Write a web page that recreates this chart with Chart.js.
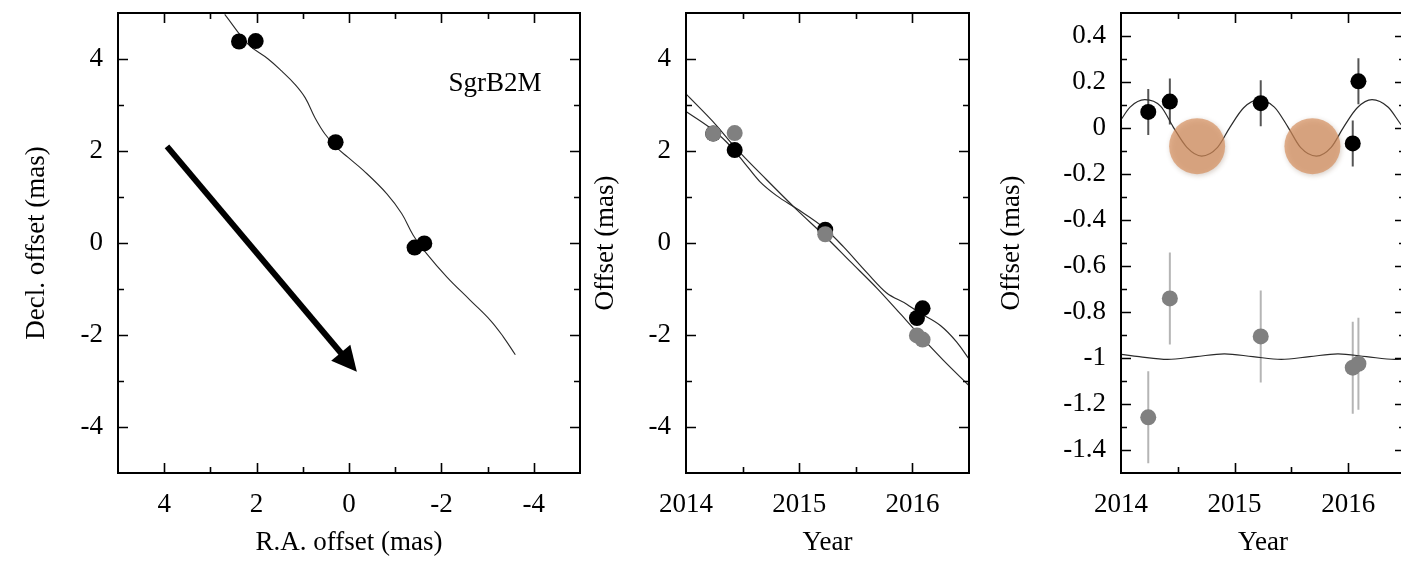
<!DOCTYPE html>
<html>
<head>
<meta charset="utf-8">
<script src="https://cdn.jsdelivr.net/npm/chart.js@4/dist/chart.umd.min.js"></script>
<style>
  html, body { margin: 0; padding: 0; background: #fff; overflow: hidden; width: 1401px; height: 561px; }
  canvas.panel { position: absolute; top: 0; }
</style>
</head>
<body>
<canvas id="sky" class="panel" style="left:0px" width="600" height="561"></canvas>
<canvas id="motion" class="panel" style="left:590px" width="400" height="561"></canvas>
<canvas id="parallax" class="panel" style="left:990px" width="440" height="561"></canvas>
<script>
// ---------------------------------------------------------------
// Observations of SgrB2M (decimal year, offsets in mas)
// ---------------------------------------------------------------
const epochs    = [2014.24, 2014.43, 2015.23, 2016.04, 2016.09];
const raOffset  = [2.38, 2.02, 0.29, -1.63, -1.42];
const decOffset = [4.38, 4.39, 2.19, -0.01, -0.10];
const decShiftMotion = -2;          // Dec drawn 2 mas lower in the time panel

// Residuals after removing the linear proper motion
const raResid   = [0.07, 0.115, 0.108, -0.067, 0.203];
const decResid  = [-0.258, 0.259, 0.094, -0.042, -0.025];
const decShiftParallax = -1;        // Dec residuals drawn 1 mas lower
const raErr  = [0.1, 0.1, 0.1, 0.1, 0.1];
const decErr = [0.2, 0.2, 0.2, 0.2, 0.2];

// Best-fit track on the sky
const skyFitRA  = [2.69, 2.18, 1.75, 1.46, 1.17, 0.95, 0.74, 0.52, 0.27, 0.02, -0.31, -0.82, -1.14, -1.39, -1.68, -2.12, -2.62, -3.06, -3.34, -3.60];
const skyFitDec = [4.97, 4.32, 4.00, 3.74, 3.45, 3.16, 2.73, 2.37, 2.08, 1.86, 1.58, 1.07, 0.64, 0.17, -0.23, -0.74, -1.24, -1.68, -2.04, -2.43];

// Best-fit motion vs time
const raFitYear  = [2014.0, 2014.21, 2014.36, 2014.51, 2014.65, 2014.80, 2014.98, 2015.23, 2015.39, 2015.60, 2015.77, 2015.95, 2016.05, 2016.25, 2016.39, 2016.5];
const raFit      = [2.86, 2.51, 2.19, 1.76, 1.34, 1.03, 0.745, 0.31, -0.08, -0.65, -1.08, -1.33, -1.50, -1.80, -2.15, -2.52];
const decFitYear = [2014.0, 2014.26, 2014.43, 2014.71, 2014.98, 2015.24, 2015.45, 2015.69, 2015.89, 2016.07, 2016.27, 2016.5];
const decFit     = [3.24, 2.58, 2.09, 1.38, 0.72, 0.12, -0.40, -0.99, -1.53, -2.02, -2.54, -3.10];

// Parallax signature
const pxRAYear  = [2014.0, 2014.08, 2014.21, 2014.35, 2014.46, 2014.58, 2014.71, 2014.85, 2014.96, 2015.08, 2015.21, 2015.35, 2015.47, 2015.58, 2015.72, 2015.85, 2015.96, 2016.08, 2016.21, 2016.35, 2016.47, 2016.5];
const pxRA      = [0.036, 0.091, 0.123, 0.094, 0.004, -0.084, -0.122, -0.084, 0.004, 0.088, 0.122, 0.091, 0.004, -0.084, -0.122, -0.084, 0.004, 0.088, 0.123, 0.091, 0.012, -0.004];
const pxDecYear = [2014.0, 2014.16, 2014.41, 2014.66, 2014.91, 2015.16, 2015.41, 2015.66, 2015.91, 2016.16, 2016.41, 2016.5];
const pxDec     = [0.016, 0.006, -0.006, 0.006, 0.018, 0.006, -0.006, 0.006, 0.018, 0.006, -0.006, -0.004];

// Epochs of minimum R.A. parallax displacement
const minEpochs = [2014.67, 2015.685];
const minLevel  = [-0.079, -0.079];

// Proper-motion direction on the sky (mas)
const arrowFrom = [3.94, 2.10];
const arrowTo   = [-0.17, -2.80];
const sourceName = 'SgrB2M';
const sourceLabelAt = [-3.16, 3.46];

// Axis ticks
const skyTicks = [4, 2, 0, -2, -4];
const yearTicks = [2014, 2015, 2016];
const residTicks = [0.4, 0.2, 0, -0.2, -0.4, -0.6, -0.8, -1, -1.2, -1.4];

// ---------------------------------------------------------------
const SERIF = '"Liberation Serif", "Times New Roman", Times, serif';
const FONT = { family: SERIF, size: 27 };
const fmt = v => String(Number(Number(v).toFixed(2)));

const zip = (xs, ys, d = 0) => xs.map((x, i) => ({ x, y: ys[i] + d }));
const errorBars = (xs, ys, es, d = 0) => {
  const out = [];
  xs.forEach((x, i) => out.push({ x, y: ys[i] + d - es[i] }, { x, y: ys[i] + d + es[i] }, { x, y: null }));
  return out;
};

function steps(min, max, step) {
  const a = [];
  for (let k = 1; min + k * step < max - step / 2; k++) a.push(+(min + k * step).toFixed(6));
  return a;
}

// Box frame with inward tick marks on all four sides
const framePlugin = {
  id: 'frame',
  afterDraw(chart, args, o) {
    const { ctx, chartArea: a } = chart;
    const xs = chart.scales.x, ys = chart.scales.y;
    const majX = xs.ticks.map(t => t.value), majY = ys.ticks.map(t => t.value);
    const isMaj = (arr, v) => arr.some(m => Math.abs(m - v) < 1e-6);
    ctx.save();
    ctx.strokeStyle = '#000';
    ctx.lineWidth = 1.6;
    ctx.beginPath();
    steps(xs.min, xs.max, o.xStep).forEach(v => {
      const p = Math.round(xs.getPixelForValue(v)) + 0.5;
      const L = isMaj(majX, v) ? o.major : o.minor;
      ctx.moveTo(p, a.bottom); ctx.lineTo(p, a.bottom - L);
      ctx.moveTo(p, a.top); ctx.lineTo(p, a.top + L);
    });
    steps(ys.min, ys.max, o.yStep).forEach(v => {
      const p = Math.round(ys.getPixelForValue(v)) + 0.5;
      const L = isMaj(majY, v) ? o.major : o.minor;
      ctx.moveTo(a.left, p); ctx.lineTo(a.left + L, p);
      ctx.moveTo(a.right, p); ctx.lineTo(a.right - L, p);
    });
    ctx.stroke();
    ctx.lineWidth = 2;
    ctx.strokeRect(a.left, a.top, a.right - a.left, a.bottom - a.top);
    ctx.restore();
  }
};

// Proper-motion arrow and source name on the sky panel
const skyAnnotations = {
  id: 'skyAnnotations',
  afterDatasetsDraw(chart, args, o) {
    if (!o || !o.arrow) return;
    const { ctx } = chart;
    const xs = chart.scales.x, ys = chart.scales.y;
    const x0 = xs.getPixelForValue(o.arrow.from[0]), y0 = ys.getPixelForValue(o.arrow.from[1]);
    const x1 = xs.getPixelForValue(o.arrow.to[0]), y1 = ys.getPixelForValue(o.arrow.to[1]);
    const ang = Math.atan2(y1 - y0, x1 - x0);
    const hl = 25, hw = 12.5;
    const bx = x1 - hl * Math.cos(ang), by = y1 - hl * Math.sin(ang);
    ctx.save();
    ctx.strokeStyle = '#000';
    ctx.fillStyle = '#000';
    ctx.lineWidth = 6;
    ctx.lineCap = 'butt';
    ctx.beginPath();
    ctx.moveTo(x0, y0);
    ctx.lineTo(bx + 2 * Math.cos(ang), by + 2 * Math.sin(ang));
    ctx.stroke();
    ctx.beginPath();
    ctx.moveTo(x1, y1);
    ctx.lineTo(bx + hw * Math.sin(ang), by - hw * Math.cos(ang));
    ctx.lineTo(bx - hw * Math.sin(ang), by + hw * Math.cos(ang));
    ctx.closePath();
    ctx.fill();
    ctx.font = `27px ${SERIF}`;
    ctx.textAlign = 'center';
    ctx.textBaseline = 'middle';
    ctx.fillText(o.label.text, xs.getPixelForValue(o.label.at[0]), ys.getPixelForValue(o.label.at[1]));
    ctx.restore();
  }
};

// Soft drop shadow for datasets flagged with `shadow`
const shadowPlugin = {
  id: 'softShadow',
  beforeDatasetDraw(chart, args) {
    const ds = chart.data.datasets[args.index];
    if (!ds.shadow) return;
    const ctx = chart.ctx;
    ctx.save();
    ctx.shadowColor = 'rgba(90, 50, 20, 0.35)';
    ctx.shadowBlur = 5;
    ctx.shadowOffsetX = 1;
    ctx.shadowOffsetY = 1.5;
  },
  afterDatasetDraw(chart, args) {
    const ds = chart.data.datasets[args.index];
    if (ds.shadow) chart.ctx.restore();
  }
};

const noEdgePadding = s => { s.paddingTop = 0; s.paddingBottom = 0; s.paddingLeft = 0; s.paddingRight = 0; };

function xScale(min, max, ticks, title, extra = {}) {
  return Object.assign({
    type: 'linear', position: 'bottom', min, max,
    afterBuildTicks: s => { s.ticks = ticks.map(v => ({ value: v })); },
    afterFit: s => { s.height = 88; noEdgePadding(s); },
    grid: { display: false, drawTicks: false },
    border: { display: false },
    ticks: { color: '#000', font: FONT, padding: 16, maxRotation: 0, autoSkip: false, callback: fmt },
    title: { display: true, text: title, color: '#000', font: FONT, padding: { top: 0, bottom: 2 } }
  }, extra);
}

function yScale(min, max, ticks, title, width, titlePad) {
  return {
    type: 'linear', position: 'left', min, max,
    afterBuildTicks: s => { s.ticks = ticks.map(v => ({ value: v })); },
    afterFit: s => { s.width = width; noEdgePadding(s); },
    grid: { display: false, drawTicks: false },
    border: { display: false },
    ticks: { color: '#000', font: FONT, padding: 15, autoSkip: false, callback: fmt },
    title: { display: true, text: title, color: '#000', font: FONT, padding: { top: titlePad, bottom: 0 } }
  };
}

function baseOptions(padRight, scales, frame, extraPlugins = {}) {
  return {
    responsive: false,
    animation: false,
    devicePixelRatio: 1,
    layout: { autoPadding: false, padding: { top: 13, right: padRight, left: 0, bottom: 0 } },
    scales,
    plugins: Object.assign({ legend: { display: false }, tooltip: { enabled: false }, frame }, extraPlugins)
  };
}

const curveStyle = { showLine: true, pointRadius: 0, borderColor: '#2a2a2a', borderWidth: 1.2, fill: false };

// ---- Panel 1: track on the sky
new Chart(document.getElementById('sky'), {
  type: 'scatter',
  data: {
    datasets: [
      Object.assign({ data: zip(skyFitRA, skyFitDec), tension: 0.4, order: 5 }, curveStyle, { borderWidth: 1.1 }),
      { data: zip(raOffset, decOffset), pointRadius: 8, pointBackgroundColor: '#000', pointBorderWidth: 0, order: 1 }
    ]
  },
  options: baseOptions(20, {
    x: xScale(-5, 5, skyTicks, 'R.A. offset (mas)', { reverse: true }),
    y: yScale(-5, 5, skyTicks, 'Decl. offset (mas)', 118, 21)
  }, { xStep: 1, yStep: 1, major: 10, minor: 6 }, {
    skyAnnotations: { arrow: { from: arrowFrom, to: arrowTo }, label: { text: sourceName, at: sourceLabelAt } }
  }),
  plugins: [framePlugin, skyAnnotations]
});

// ---- Panel 2: offsets vs time
new Chart(document.getElementById('motion'), {
  type: 'scatter',
  data: {
    datasets: [
      Object.assign({ data: zip(raFitYear, raFit), cubicInterpolationMode: 'monotone', order: 6 }, curveStyle),
      Object.assign({ data: zip(decFitYear, decFit), cubicInterpolationMode: 'monotone', order: 5 }, curveStyle),
      { data: zip(epochs, raOffset), pointRadius: 8, pointBackgroundColor: '#000', pointBorderWidth: 0, order: 3 },
      { data: zip(epochs, decOffset, decShiftMotion), pointRadius: 8, pointBackgroundColor: '#808080', pointBorderWidth: 0, order: 2 }
    ]
  },
  options: baseOptions(21, {
    x: xScale(2014, 2016.5, yearTicks, 'Year'),
    y: yScale(-5, 5, skyTicks, 'Offset (mas)', 96, 0)
  }, { xStep: 0.5, yStep: 1, major: 10, minor: 6 }),
  plugins: [framePlugin]
});

// ---- Panel 3: parallax residuals
new Chart(document.getElementById('parallax'), {
  type: 'scatter',
  data: {
    datasets: [
      { data: errorBars(epochs, decResid, decErr, decShiftParallax), showLine: true, pointRadius: 0, borderColor: '#b5b5b5', borderWidth: 2, order: 9 },
      { data: errorBars(epochs, raResid, raErr), showLine: true, pointRadius: 0, borderColor: '#555', borderWidth: 2, order: 8 },
      Object.assign({ data: zip(pxRAYear, pxRA), cubicInterpolationMode: 'monotone', order: 7 }, curveStyle),
      Object.assign({ data: zip(pxDecYear, pxDec, decShiftParallax), cubicInterpolationMode: 'monotone', order: 6 }, curveStyle),
      { data: zip(epochs, decResid, decShiftParallax), pointRadius: 8, pointBackgroundColor: '#808080', pointBorderWidth: 0, order: 4 },
      { data: zip(epochs, raResid), pointRadius: 8, pointBackgroundColor: '#000', pointBorderWidth: 0, order: 3 },
      { data: zip(minEpochs, minLevel), pointRadius: 28, pointBackgroundColor: 'rgba(214, 142, 92, 0.68)', pointBorderWidth: 0, shadow: true, order: 1 }
    ]
  },
  options: baseOptions(25, {
    x: xScale(2014, 2016.5, yearTicks, 'Year'),
    y: yScale(-1.5, 0.5, residTicks, 'Offset (mas)', 131, 6)
  }, { xStep: 0.5, yStep: 0.1, major: 10, minor: 6 }),
  plugins: [framePlugin, shadowPlugin]
});
</script>
</body>
</html>
